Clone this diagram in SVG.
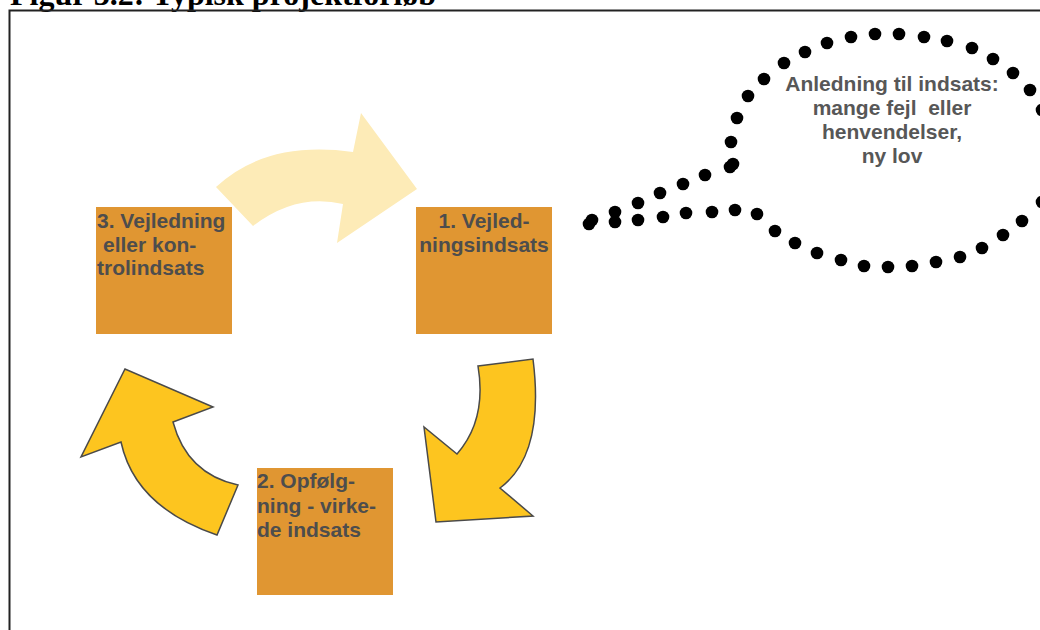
<svg xmlns="http://www.w3.org/2000/svg" width="1040" height="630" viewBox="0 0 1040 630">
<style>
.box{fill:#E09632;}
.bt{font-family:"Liberation Sans",Arial,sans-serif;font-weight:bold;font-size:21px;fill:#4D4D4D;}
.ct{font-family:"Liberation Sans",Arial,sans-serif;font-weight:bold;font-size:21px;fill:#575757;text-anchor:middle;}
.arr{fill:#FDC51F;stroke:#4A4A4A;stroke-width:1.5;stroke-linejoin:miter;}
.arrl{fill:#FDEBB7;stroke:none;}
.dot{fill:#000;}
.title{font-family:"Liberation Serif","Times New Roman",serif;font-weight:bold;font-size:32px;fill:#000;}
</style>
<rect width="1040" height="630" fill="#fff"/>
<text class="title" x="10" y="5">Figur 3.2: Typisk projektforløb</text>
<rect x="9.5" y="10.5" width="1040" height="630" fill="none" stroke="#222" stroke-width="2"/>
<g id="connectors">
<path class="arrl" d="M216,187 Q266,140 353,152 L361,113 L417,189 L337,243 L343,204 Q296,193 253,226 Z"/>
<path class="arr" d="M478,366 L533,359 Q545,455 500,488 L533,516 L436,522 L424,427 L457,454 Q487,420 478,366 Z"/>
<path class="arr" d="M238,485 L217,535 Q135,507 121,442 L81,457 L125,369 L213,407 L173,422 Q187,474 238,485 Z"/>
</g>
<g id="node1">
<rect class="box" x="416" y="207" width="136" height="127"/>
<text class="bt" text-anchor="middle"><tspan x="484" y="228">1. Vejled-</tspan><tspan x="484" y="252">ningsindsats</tspan></text>
</g>
<g id="node2">
<rect class="box" x="257" y="468" width="136" height="127"/>
<text class="bt"><tspan x="257" y="488">2. Opfølg-</tspan><tspan x="257" y="513">ning - virke-</tspan><tspan x="257" y="537">de indsats</tspan></text>
</g>
<g id="node3">
<rect class="box" x="96" y="207" width="136" height="127"/>
<text class="bt"><tspan x="97" y="228">3. Vejledning</tspan><tspan x="103" y="252">eller kon-</tspan><tspan x="97" y="275">trolindsats</tspan></text>
</g>
<g id="callout">
<g class="dot">
<circle cx="589" cy="224" r="6.3"/><circle cx="592" cy="220" r="6.3"/>
<circle cx="615" cy="212" r="6.3"/><circle cx="615" cy="222" r="6.3"/>
<circle cx="638" cy="203" r="6.3"/><circle cx="638" cy="220" r="6.3"/>
<circle cx="660" cy="193" r="6.3"/><circle cx="683" cy="184" r="6.3"/>
<circle cx="705" cy="175" r="6.3"/><circle cx="730" cy="167" r="6.3"/><circle cx="733" cy="164" r="6.3"/>
<circle cx="731" cy="142" r="6.3"/><circle cx="737" cy="118" r="6.3"/><circle cx="748" cy="96" r="6.3"/>
<circle cx="764" cy="79" r="6.3"/><circle cx="784" cy="63" r="6.3"/><circle cx="805" cy="52" r="6.3"/>
<circle cx="827" cy="43" r="6.3"/><circle cx="851" cy="37" r="6.3"/><circle cx="875" cy="34" r="6.3"/>
<circle cx="899" cy="34" r="6.3"/><circle cx="924" cy="37" r="6.3"/><circle cx="947" cy="41" r="6.3"/>
<circle cx="972" cy="48" r="6.3"/><circle cx="993" cy="59" r="6.3"/><circle cx="1013" cy="73" r="6.3"/>
<circle cx="1030" cy="90" r="6.3"/><circle cx="1042" cy="110" r="6.3"/>
<circle cx="1042" cy="202" r="6.3"/><circle cx="1022" cy="221" r="6.3"/><circle cx="1003" cy="235" r="6.3"/>
<circle cx="982" cy="248" r="6.3"/><circle cx="960" cy="257" r="6.3"/><circle cx="936" cy="262" r="6.3"/>
<circle cx="912" cy="266" r="6.3"/><circle cx="888" cy="267" r="6.3"/><circle cx="864" cy="266" r="6.3"/>
<circle cx="841" cy="260" r="6.3"/><circle cx="817" cy="253" r="6.3"/><circle cx="795" cy="243" r="6.3"/>
<circle cx="775" cy="231" r="6.3"/><circle cx="757" cy="214" r="6.3"/><circle cx="735" cy="210" r="6.3"/>
<circle cx="712" cy="212" r="6.3"/><circle cx="686" cy="213" r="6.3"/><circle cx="663" cy="217" r="6.3"/>
</g>
<text class="ct"><tspan x="892" y="91">Anledning til indsats:</tspan><tspan x="892" y="115" xml:space="preserve">mange fejl  eller</tspan><tspan x="892" y="139">henvendelser,</tspan><tspan x="892" y="163">ny lov</tspan></text>
</g>
</svg>
